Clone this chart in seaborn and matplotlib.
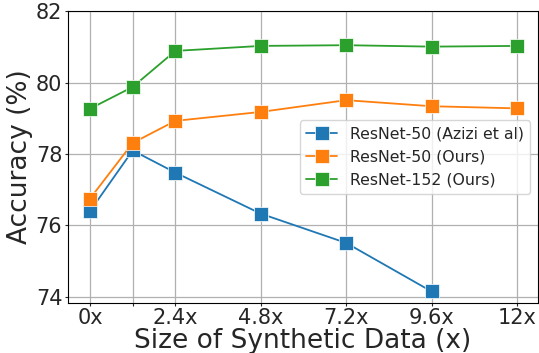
import matplotlib
matplotlib.use("Agg")
import matplotlib.pyplot as plt
import pandas as pd
import seaborn as sns

sizes = [0, 1.2, 2.4, 4.8, 7.2, 9.6, 12]
tick_labels = ["0x", "", "2.4x", "4.8x", "7.2x", "9.6x", "12x"]
azizi_r50 = [76.40, 78.10, 77.48, 76.33, 75.51, 74.15]
ours_r50 = [76.75, 78.31, 78.93, 79.18, 79.51, 79.34, 79.28]
ours_r152 = [79.27, 79.88, 80.89, 81.03, 81.05, 81.01, 81.03]
series = ["ResNet-50 (Azizi et al)", "ResNet-50 (Ours)", "ResNet-152 (Ours)"]

rows = []
for name, vals in zip(series, [azizi_r50, ours_r50, ours_r152]):
    for x, y in zip(sizes, vals):
        rows.append({"size": x, "acc": y, "model": name})
df = pd.DataFrame(rows)

sns.set_style("ticks")
plt.rcParams["font.family"] = ["DejaVu Sans"]

fig, ax = plt.subplots(figsize=(5.39, 3.53), dpi=100)
sns.lineplot(
    data=df, x="size", y="acc", hue="model", hue_order=series,
    palette=["#1f77b4", "#ff7f0e", "#2ca02c"],
    marker="s", markersize=9.5, markeredgewidth=0.5, linewidth=1.3,
    ax=ax,
)
ax.grid(True, color="#b0b0b0", linewidth=0.9)
ax.set_xlim(-0.62, 12.59)
ax.set_ylim(73.83, 82)
ax.set_xticks(sizes)
ax.set_xticklabels(tick_labels)
ax.set_yticks([74, 76, 78, 80, 82])
ax.tick_params(labelsize=15, length=2.5, width=0.8, pad=1.5)
ax.set_xlabel("Size of Synthetic Data (x)", fontsize=19, labelpad=-0.5)
ax.set_ylabel("Accuracy (%)", fontsize=19, labelpad=2)
for s in ax.spines.values():
    s.set_color("black")
ax.legend(loc="center right", fontsize=11.3, title=None)

fig.subplots_adjust(left=0.126, right=0.998, top=0.968, bottom=0.142)
fig.savefig("out.png", dpi=100)
